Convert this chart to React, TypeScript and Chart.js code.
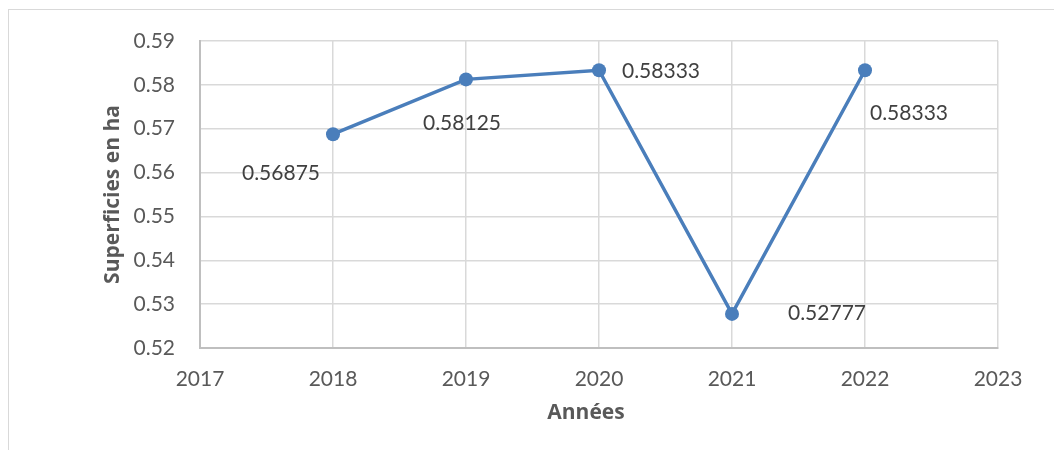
import React, { useEffect, useRef } from "react";
import { Chart, registerables } from "chart.js";

Chart.register(...registerables);

const years = [2018, 2019, 2020, 2021, 2022];
const superficies = [0.56875, 0.58125, 0.58333, 0.52777, 0.58333];
const labelTexts = ["0.56875", "0.58125", "0.58333", "0.52777", "0.58333"];
const xRange = [2017, 2023];
const yRange = [0.52, 0.59];
const xTitle = "Années";
const yTitle = "Superficies en ha";

// label placement relative to each point (pixels), style only
const labelOffsets = [
  [-52, 39],
  [-4, 44],
  [62, 1],
  [95, -1],
  [44, 43],
];

const FONT = "Lato, 'Open Sans', sans-serif";
const TITLE_FONT = "'Open Sans', Lato, sans-serif";
const BLUE = "#4a7ebb";

const dataLabelPlugin = {
  id: "dataLabels",
  afterDatasetsDraw(chart: any) {
    const meta = chart.getDatasetMeta(0);
    const ctx = chart.ctx;
    ctx.save();
    ctx.font = `21px ${FONT}`;
    ctx.fillStyle = "#404040";
    ctx.textAlign = "center";
    ctx.textBaseline = "middle";
    meta.data.forEach((pt: any, i: number) => {
      const [dx, dy] = labelOffsets[i];
      ctx.fillText(labelTexts[i], pt.x + dx, pt.y + dy);
    });
    ctx.restore();
  },
};

// Excel places the x title slightly left of the plot centre
const xTitlePlugin = {
  id: "xTitle",
  afterDraw(chart: any) {
    const s = chart.scales.x;
    const ctx = chart.ctx;
    ctx.save();
    ctx.font = `bold 21px ${TITLE_FONT}`;
    ctx.fillStyle = "#595959";
    ctx.textAlign = "center";
    ctx.textBaseline = "middle";
    ctx.fillText(xTitle, (s.left + s.right) / 2 - 13, s.bottom - 37);
    ctx.restore();
  },
};

export default function App() {
  const ref = useRef<HTMLCanvasElement>(null);
  useEffect(() => {
    if (!ref.current) return;
    const chart = new Chart(ref.current, {
      type: "line",
      data: {
        datasets: [
          {
            data: years.map((x, i) => ({ x, y: superficies[i] })),
            borderColor: BLUE,
            backgroundColor: BLUE,
            borderWidth: 3.5,
            pointRadius: 7,
            pointBorderWidth: 0,
            pointBackgroundColor: BLUE,
            tension: 0,
            fill: false,
          },
        ],
      },
      options: {
        animation: false,
        responsive: false,
        maintainAspectRatio: false,
        layout: { padding: { left: 0, top: 41, right: 56, bottom: 0 } },
        plugins: {
          legend: { display: false },
          tooltip: { enabled: false },
        },
        scales: {
          x: {
            type: "linear",
            min: xRange[0],
            max: xRange[1],
            afterFit: (s: any) => {
              s.height = 102;
            },
            ticks: {
              stepSize: 1,
              padding: 19,
              color: "#595959",
              font: { family: FONT, size: 21 },
              callback: (v: any) => String(v),
            },
            grid: { color: "#d9d9d9", lineWidth: 1.5, drawTicks: false },
            border: { color: "#bfbfbf", width: 2 },
            title: { display: false },
          },
          y: {
            min: yRange[0],
            max: yRange[1],
            afterFit: (s: any) => {
              s.width = 200;
            },
            ticks: {
              stepSize: 0.01,
              padding: 25,
              color: "#595959",
              font: { family: FONT, size: 21 },
              callback: (v: any) => Number(v).toFixed(2),
            },
            grid: { color: "#d9d9d9", lineWidth: 1.5, drawTicks: false },
            border: { color: "#bfbfbf", width: 2 },
            title: {
              display: true,
              text: yTitle,
              color: "#595959",
              font: { family: TITLE_FONT, size: 21, weight: "bold" },
              padding: { top: 100, bottom: 0 },
            },
          },
        },
      },
      plugins: [dataLabelPlugin, xTitlePlugin],
    });
    return () => chart.destroy();
  }, []);

  return (
    <div style={{ position: "fixed", left: 0, top: 0, width: 1054, height: 450, background: "#fff" }}>
      <div
        style={{
          position: "absolute",
          left: 8,
          top: 9,
          width: 1046,
          height: 441,
          borderLeft: "1px solid #d9d9d9",
          borderTop: "1px solid #d9d9d9",
        }}
      />
      <canvas ref={ref} width={1054} height={450} style={{ position: "absolute", left: 0, top: 0 }} />
    </div>
  );
}
